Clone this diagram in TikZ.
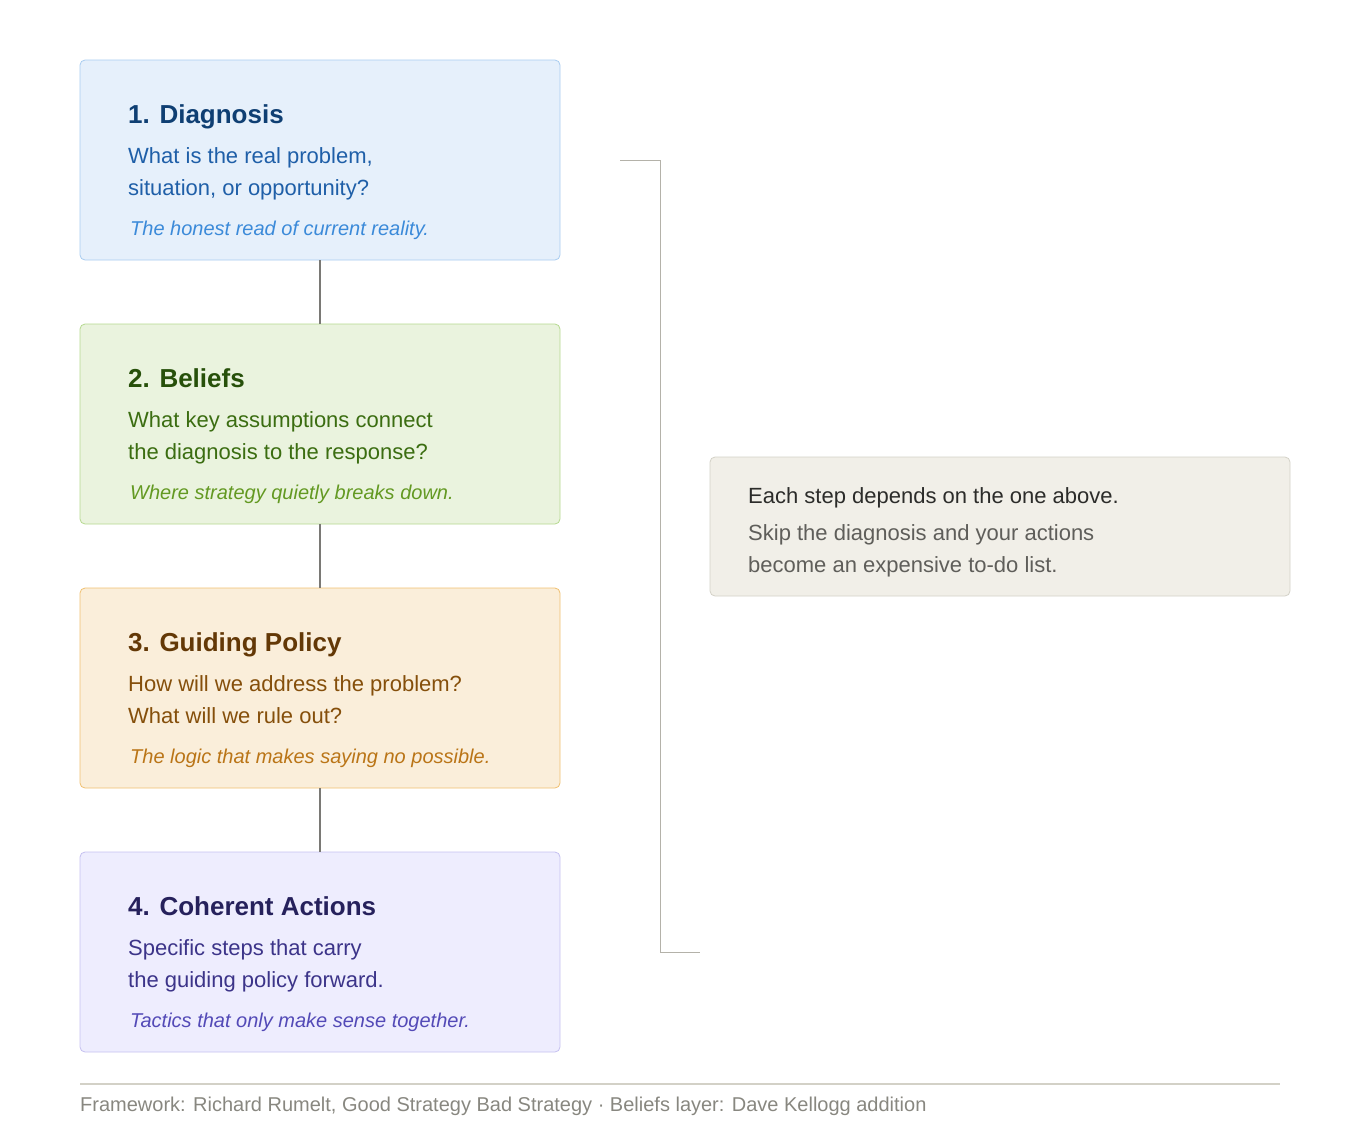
\documentclass[tikz,border=0pt]{standalone}
\usepackage{fontspec}
\setmainfont{Liberation Sans}
\definecolor{f1}{HTML}{E6F0FB}\definecolor{b1}{HTML}{A8CCF0}\definecolor{t1}{HTML}{0F3F73}\definecolor{s1}{HTML}{1F5FA8}\definecolor{i1}{HTML}{3B8AD9}
\definecolor{f2}{HTML}{EAF3DE}\definecolor{b2}{HTML}{B5D98F}\definecolor{t2}{HTML}{27500A}\definecolor{s2}{HTML}{3B6D11}\definecolor{i2}{HTML}{639922}
\definecolor{f3}{HTML}{FAEEDA}\definecolor{b3}{HTML}{F0C070}\definecolor{t3}{HTML}{633806}\definecolor{s3}{HTML}{854F0B}\definecolor{i3}{HTML}{BA7517}
\definecolor{f4}{HTML}{EEEDFE}\definecolor{b4}{HTML}{C5C0F0}\definecolor{t4}{HTML}{26215C}\definecolor{s4}{HTML}{3C3489}\definecolor{i4}{HTML}{534AB7}
\definecolor{fr}{HTML}{F1EFE8}\definecolor{br}{HTML}{D3D1C7}\definecolor{tr}{HTML}{2C2C2A}\definecolor{sr}{HTML}{5F5E5A}
\definecolor{ft}{HTML}{888780}\definecolor{ln}{HTML}{7A7975}\definecolor{bk}{HTML}{B4B2A9}
\begin{document}
\begin{tikzpicture}[x=1pt,y=-1pt,
  card/.style={draw=#1,line width=0.8pt,rounded corners=5pt,minimum width=480pt,minimum height=200pt,inner sep=0pt},
  ttl/.style={anchor=base west,inner sep=0pt,font=\fontsize{26}{30}\selectfont\bfseries,text=#1},
  bod/.style={anchor=base west,inner sep=0pt,font=\fontsize{22}{32}\selectfont,text=#1,align=left},
  itl/.style={anchor=base west,inner sep=0pt,font=\fontsize{20}{24}\selectfont\itshape,text=#1},
  conn/.style={draw=ln,line width=2pt}]
\useasboundingbox (0,0) rectangle (1360,1120);
\node[card=b1,fill=f1] (c1) at (320,160) {};
\node[card=b2,fill=f2] (c2) at (320,424) {};
\node[card=b3,fill=f3] (c3) at (320,688) {};
\node[card=b4,fill=f4] (c4) at (320,952) {};
\draw[conn] (c1.south) -- (c2.north);
\draw[conn] (c2.south) -- (c3.north);
\draw[conn] (c3.south) -- (c4.north);
\node[ttl=t1] (h1) at (128,123) {1. Diagnosis};
\node[bod=s1] (p1a) at (128,163) {What is the real problem,};
\node[bod=s1] (p1b) at (128,195) {situation, or opportunity?};
\node[itl=i1] (q1) at (130,235) {The honest read of current reality.};
\node[ttl=t2] (h2) at (128,387) {2. Beliefs};
\node[bod=s2] (p2a) at (128,427) {What key assumptions connect};
\node[bod=s2] (p2b) at (128,459) {the diagnosis to the response?};
\node[itl=i2] (q2) at (130,499) {Where strategy quietly breaks down.};
\node[ttl=t3] (h3) at (128,651) {3. Guiding Policy};
\node[bod=s3] (p3a) at (128,691) {How will we address the problem?};
\node[bod=s3] (p3b) at (128,723) {What will we rule out?};
\node[itl=i3] (q3) at (130,763) {The logic that makes saying no possible.};
\node[ttl=t4] (h4) at (128,915) {4. Coherent Actions};
\node[bod=s4] (p4a) at (128,955) {Specific steps that carry};
\node[bod=s4] (p4b) at (128,987) {the guiding policy forward.};
\node[itl=i4] (q4) at (130,1027) {Tactics that only make sense together.};
\coordinate (k1) at (620,160);\coordinate (k2) at (660,160);
\coordinate (k3) at (660,952);\coordinate (k4) at (700,952);
\draw[bk,line width=0.8pt] (k1) -- (k2) -- (k3) -- (k4);
\node[draw=br,fill=fr,line width=0.8pt,rounded corners=5pt,minimum width=580pt,minimum height=139pt,inner sep=0pt] (r) at (1000,526.5) {};
\node[bod=tr] (r1) at (748,503) {Each step depends on the one above.};
\node[bod=sr] (r2) at (748,540) {Skip the diagnosis and your actions};
\node[bod=sr] (r3) at (748,572) {become an expensive to-do list.};
\coordinate (f1) at (80,1084);\coordinate (f2) at (1280,1084);
\draw[br,line width=1.2pt] (f1) -- (f2);
\node[anchor=base west,inner sep=0pt,font=\fontsize{20}{24}\selectfont,text=ft] (fn) at (80,1111) {Framework: Richard Rumelt, Good Strategy Bad Strategy · Beliefs layer: Dave Kellogg addition};
\end{tikzpicture}
\end{document}
